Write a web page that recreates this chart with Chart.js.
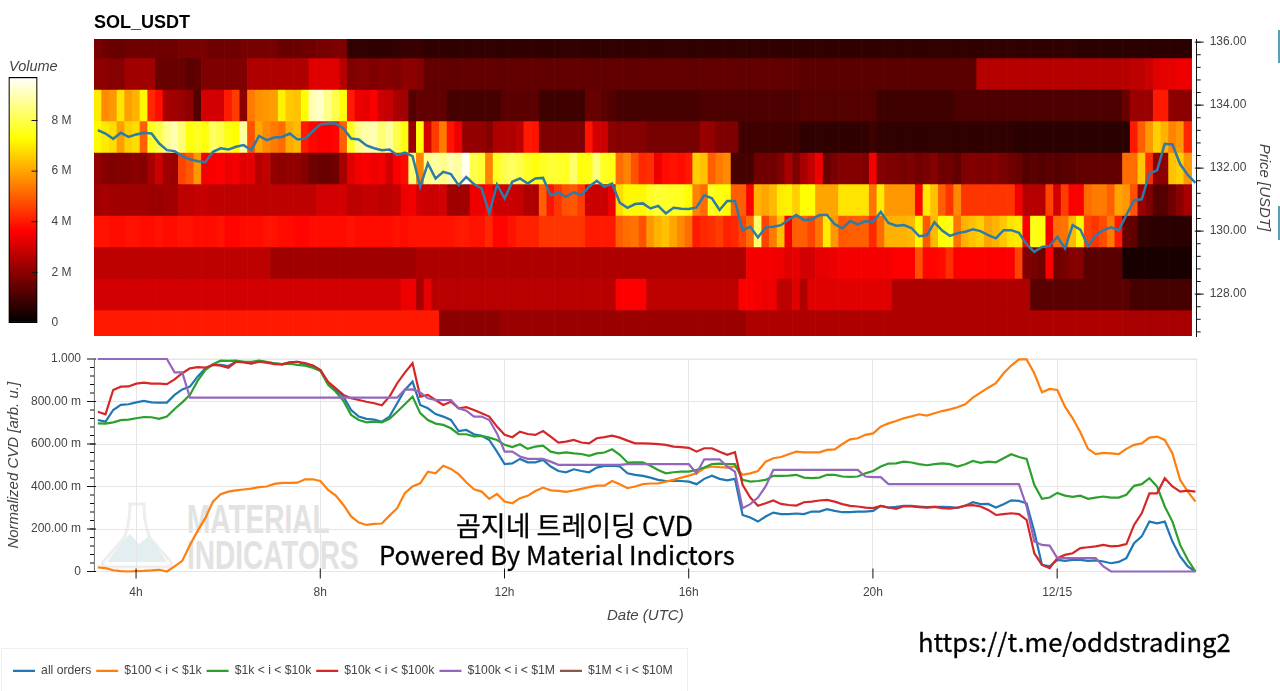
<!DOCTYPE html>
<html>
<head>
<meta charset="utf-8">
<title>SOL_USDT</title>
<script src="https://cdn.jsdelivr.net/npm/chart.js@4"></script>
<style>
  body { margin: 0; background: #fff; width: 1280px; height: 691px; overflow: hidden; position: relative; }
  canvas { position: absolute; }
  .note { position: absolute; white-space: nowrap; color: #000; font-family: "Noto Sans CJK KR", sans-serif; -webkit-text-stroke: 0.3px #000; }
  .mark { position: absolute; white-space: nowrap; color: #e2e2e2; font: bold 40px/40px "Liberation Sans", sans-serif; transform: scaleX(0.7); transform-origin: left; }
  .edge { position: absolute; left: 1278px; width: 2px; background: #5b9fb5; }
</style>
</head>
<body>
<div style="position:absolute;left:1px;top:648px;width:685px;height:50px;border:1px solid #efefef"></div>
<svg style="position:absolute;left:97px;top:500px" width="80" height="70">
  <path d="M6 62 L27 38 Q33 24 33 4 L47 4 Q47 24 53 38 L74 62 Q76 66 70 67 L10 67 Q4 66 6 62 Z" fill="none" stroke="#eeeeee" stroke-width="3"/>
  <path d="M10 62 L25 42 L33 34 L42 44 L52 36 L70 62 Z" fill="#e3eef1"/>
</svg>
<div class="mark" style="left:187px;top:499px">MATERIAL</div>
<div class="mark" style="left:187px;top:535px">INDICATORS</div>
<canvas id="heatChart" width="1280" height="345" style="left:0;top:0"></canvas>
<canvas id="barChart" width="90" height="345" style="left:0;top:0"></canvas>
<canvas id="cvdChart" width="1280" height="346" style="left:0;top:345px"></canvas>
<div style="position:absolute;left:94px;top:12px;font:bold 18px 'Liberation Sans',sans-serif">SOL_USDT</div>
<div style="position:absolute;left:9px;top:58px;font:italic 14.5px 'Liberation Sans',sans-serif;color:#444">Volume</div>
<div class="note" style="left:456px;top:507px;font-size:27px;line-height:36px">곰지네 트레이딩 CVD</div>
<div class="note" style="left:379px;top:536px;font-size:25.7px;line-height:36px">Powered By Material Indictors</div>
<div class="note" style="left:918px;top:622px;font-size:25.6px;line-height:38px">https://t.me/oddstrading2</div>
<div class="edge" style="top:30px;height:33px"></div>
<div class="edge" style="top:206px;height:34px"></div>
<script>
// hours since midnight, one heat column every 10 minutes
var startHour = 3.17;
var hours = Array.from({ length: 144 }, function (_, k) { return startHour + k / 6; });

var timeTicks = [4, 8, 12, 16, 20, 24];
var timeLabels = ['4h', '8h', '12h', '16h', '20h', '12/15'];
var priceTicks = [128, 130, 132, 134, 136];
var cvdTicks = [0, 0.2, 0.4, 0.6, 0.8, 1];
var cvdLabels = ['0', '200.00 m', '400.00 m', '600.00 m', '800.00 m', '1.000'];
var volumeTicks = [0, 2, 4, 6, 8];
var volumeLabels = ['0', '2 M', '4 M', '6 M', '8 M'];
var volumeMax = 9.72;

// price band edges, top to bottom
var bandEdges = [136.1, 135.5, 134.5, 133.5, 132.5, 131.5, 130.5, 129.5, 128.5, 127.5, 126.67];

// heat map volume in millions, one list per price band
var volume136 = [
  1.7,1.6,1.5,1.5,1.6,1.6,1.6,1.6,1.6,1.6,
  1.6,1.7,1.7,1.7,1.7,1.6,1.6,1.6,1.6,1.7,
  1.7,1.7,1.7,1.7,1.5,1.5,1.5,1.6,1.6,1.7,
  1.7,1.8,1.8,0.7,0.7,0.7,0.7,0.7,0.7,0.7,
  0.8,0.8,0.8,0.7,0.7,0.7,0.7,0.7,0.7,0.7,
  0.7,0.7,0.7,0.7,0.7,0.7,0.7,0.7,0.7,0.7,
  0.7,0.7,0.7,0.7,0.7,0.7,0.7,0.7,0.7,0.7,
  0.7,0.7,0.7,0.7,0.7,0.7,0.7,0.7,0.7,0.7,
  0.7,0.7,0.7,0.7,0.7,0.7,0.7,0.7,0.7,0.7,
  0.7,0.7,0.7,0.7,0.7,0.7,0.7,0.7,0.7,0.7,
  0.7,0.7,0.7,0.7,0.7,0.7,0.7,0.7,0.7,0.7,
  0.7,0.7,0.7,0.7,0.7,0.7,0.7,0.7,0.7,0.7,
  0.7,0.7,0.7,0.7,0.7,0.7,0.7,0.7,0.6,0.6,
  0.6,0.6,0.6,0.6,0.6,0.6,0.6,0.6,0.6,0.6,
  0.6,0.6,0.6
];
var volume135 = [
  2.0,2.0,1.9,1.9,2.3,2.3,2.3,2.3,1.5,1.5,
  1.5,1.5,1.3,1.4,1.8,1.8,1.8,1.8,1.8,1.8,
  2.5,2.5,2.5,2.5,2.5,2.5,2.5,2.5,3.2,3.2,
  3.2,3.2,2.6,1.8,1.9,1.9,1.8,1.9,1.9,1.8,
  2.0,2.0,1.9,1.4,1.4,1.4,1.4,1.4,1.4,1.4,
  1.4,1.4,1.4,1.4,1.4,1.4,1.4,1.4,1.4,1.4,
  1.4,1.4,1.4,1.4,1.4,1.4,1.4,1.4,1.4,1.4,
  1.4,1.4,1.4,1.4,1.4,1.4,1.4,1.4,1.4,1.4,
  1.4,1.4,1.4,1.4,1.4,1.4,1.4,1.4,1.4,1.4,
  1.4,1.4,1.3,1.3,1.3,1.3,1.3,1.3,1.3,1.3,
  1.3,1.3,1.3,1.3,1.3,1.3,1.3,1.3,1.3,1.3,
  1.3,1.3,1.3,1.3,1.3,2.6,2.6,2.6,2.6,2.6,
  2.6,2.6,2.6,2.6,2.6,2.6,2.6,2.6,2.6,2.6,
  2.6,2.6,2.6,2.6,2.6,2.7,2.7,2.9,3.2,3.3,
  3.3,3.4,3.4
];
var volume134 = [
  7.0,5.6,5.8,6.9,5.9,6.2,7.2,4.2,3.8,2.4,
  2.3,2.2,2.0,1.2,3.0,3.0,3.0,4.0,4.5,2.0,
  5.4,5.7,5.8,5.9,7.1,6.5,6.4,7.3,9.0,9.2,
  8.6,8.0,7.4,4.0,3.4,3.3,3.6,2.9,2.8,2.4,
  2.3,1.2,1.4,1.4,1.4,1.4,1.0,1.0,1.0,1.0,
  1.0,1.0,1.0,1.3,1.3,1.3,1.3,1.3,0.9,0.9,
  0.9,0.9,0.9,0.9,1.5,1.5,1.3,1.2,1.0,1.0,
  1.0,1.0,1.0,1.0,1.0,1.0,1.0,1.0,1.0,1.1,
  1.1,1.1,1.1,1.1,1.1,1.1,1.1,1.1,1.1,1.1,
  1.1,1.1,1.2,1.2,1.2,1.2,1.2,1.2,1.2,1.2,
  1.2,1.2,0.9,0.9,0.9,0.9,0.9,0.9,0.9,0.9,
  0.9,0.9,1.1,1.1,1.1,1.1,1.1,1.1,1.1,1.1,
  1.1,1.1,1.1,1.1,1.1,1.1,1.1,1.1,1.1,1.1,
  1.1,1.1,1.1,1.1,1.5,2.2,2.2,2.2,4.0,4.0,
  2.0,2.0,2.0
];
var volume133 = [
  7.2,7.0,6.8,5.9,6.6,6.8,5.0,7.6,8.0,8.6,
  9.0,8.4,7.4,7.6,7.4,8.2,8.0,7.5,7.3,8.8,
  4.8,6.0,5.6,5.4,5.2,6.1,6.3,4.0,3.7,3.6,
  3.6,3.7,5.0,7.6,8.6,8.9,9.0,8.4,8.8,8.0,
  7.4,2.2,7.4,3.0,4.5,5.4,3.9,3.4,2.1,2.1,
  2.1,1.9,2.5,2.5,2.5,2.7,4.0,3.9,1.8,1.8,
  1.8,1.8,1.8,1.8,3.9,3.0,2.9,2.0,1.9,1.9,
  1.9,1.9,1.7,1.7,1.7,1.7,1.7,1.7,1.7,2.2,
  2.1,1.8,1.8,1.8,0.9,0.9,0.9,0.9,0.9,0.9,
  0.9,0.9,0.7,0.7,0.7,0.7,0.7,0.7,0.7,0.7,
  0.7,0.9,0.7,0.7,0.7,0.7,0.7,0.7,0.7,0.7,
  0.7,0.7,0.7,0.7,0.7,0.7,0.7,0.7,0.7,0.7,
  0.6,0.6,0.6,0.6,0.6,0.6,0.6,0.6,0.6,0.6,
  0.6,0.6,0.6,0.6,0.6,4.0,5.0,5.8,6.6,6.2,
  5.5,5.8,4.2
];
var volume132 = [
  2.1,1.9,1.8,1.9,1.9,2.0,1.9,2.4,2.9,2.3,
  2.2,4.6,4.9,5.8,3.5,3.6,3.6,3.4,3.5,3.2,
  3.3,2.6,2.8,2.1,2.0,2.1,2.1,1.9,1.6,1.5,
  1.5,1.6,2.4,3.2,3.5,3.6,3.4,3.5,3.0,3.6,
  3.8,8.4,5.5,8.6,8.8,8.6,9.0,8.8,9.6,8.0,
  7.8,5.5,7.6,8.0,8.2,8.0,7.6,7.4,7.6,7.8,
  7.7,7.6,8.3,7.4,7.5,8.5,7.6,7.5,5.2,5.5,
  4.8,4.2,4.3,3.4,3.8,3.9,3.8,4.0,6.6,6.4,
  5.0,5.4,5.6,1.0,1.0,1.0,1.6,1.6,1.6,1.8,
  2.4,1.8,2.4,2.8,3.4,1.5,1.7,1.9,1.9,1.9,
  1.8,3.5,1.9,1.8,1.8,1.7,1.8,1.6,1.7,1.9,
  1.6,1.6,1.4,1.8,1.9,1.8,1.8,1.9,1.7,1.6,
  1.5,1.2,1.3,1.2,1.3,1.2,1.3,1.3,1.4,1.4,
  1.4,1.4,1.4,1.4,5.2,5.2,6.5,4.3,2.0,2.0,
  6.4,6.6,5.8
];
var volume131 = [
  2.3,2.4,2.3,2.3,2.3,2.3,2.3,2.2,2.2,2.3,
  2.3,2.7,2.7,2.8,2.8,2.7,2.7,2.7,2.7,2.7,
  2.7,2.7,2.7,2.7,2.7,2.7,2.7,2.7,2.7,3.0,
  3.0,3.0,3.0,2.7,2.7,2.8,2.8,2.7,2.7,2.8,
  3.4,3.5,3.0,2.9,2.9,3.0,2.3,2.3,2.3,3.4,
  3.4,3.7,2.9,2.9,2.9,2.8,2.5,2.5,5.0,3.9,
  4.4,4.8,4.9,4.5,2.9,2.9,2.9,3.4,6.8,7.2,
  7.2,7.2,7.6,7.8,7.7,7.6,7.6,7.3,5.5,5.2,
  7.6,7.4,7.3,5.0,5.0,3.6,6.2,6.0,6.3,7.0,
  7.1,6.6,7.3,7.3,6.0,6.0,6.0,6.9,6.9,6.9,
  6.9,5.3,7.0,5.8,5.8,5.8,5.8,3.7,7.0,6.4,
  5.0,4.4,5.6,4.4,4.4,4.4,4.4,4.4,4.4,4.4,
  3.5,2.6,2.6,2.6,4.6,3.0,4.5,3.6,3.6,5.2,
  5.4,5.4,5.0,6.0,5.8,4.8,2.2,1.8,1.2,1.2,
  1.6,2.0,2.4
];
var volume130 = [
  3.9,3.9,3.8,3.8,3.9,3.9,3.8,3.8,3.9,3.8,
  3.8,3.9,3.9,3.8,3.8,3.8,3.9,3.7,3.7,3.8,
  3.8,3.8,3.9,3.9,3.8,3.8,3.7,3.7,3.8,3.8,
  3.8,3.8,3.8,3.9,3.8,3.8,3.8,3.8,3.8,3.9,
  3.8,3.9,3.9,3.9,3.9,3.9,3.9,4.0,4.0,3.9,
  3.9,4.2,3.7,3.7,3.9,4.1,4.1,4.1,4.4,4.4,
  4.4,4.4,4.4,4.4,4.0,4.0,4.0,4.0,5.0,5.2,
  5.3,4.8,5.8,6.2,6.4,6.0,5.6,5.2,4.0,4.2,
  4.3,4.5,4.1,4.2,4.6,5.2,8.3,4.6,5.4,6.4,
  3.5,5.0,5.0,4.6,5.3,7.0,5.8,4.9,5.0,5.0,
  5.0,4.2,5.2,6.2,6.2,6.2,6.3,7.2,4.9,6.3,
  7.3,7.5,5.3,6.2,6.4,6.6,6.0,6.2,6.5,6.9,
  7.0,3.6,7.5,7.4,3.5,5.2,5.3,6.3,7.2,4.6,
  4.4,4.7,5.4,4.0,1.5,1.4,0.7,0.7,0.6,0.6,
  0.6,0.6,0.6
];
var volume129 = [
  2.7,2.7,2.7,2.7,2.7,2.7,2.7,2.7,2.7,2.7,
  2.7,2.7,2.7,2.7,2.7,2.7,2.7,2.7,2.7,2.7,
  2.7,2.7,2.7,2.3,2.3,2.3,2.3,2.3,2.3,2.3,
  2.3,2.3,2.3,2.3,2.3,2.3,2.3,2.3,2.3,2.3,
  2.3,2.3,2.5,2.5,2.5,2.5,2.5,2.5,2.5,2.5,
  2.5,2.5,2.5,2.5,2.5,2.5,2.5,2.5,2.5,2.5,
  2.5,2.5,2.5,2.5,2.5,2.5,2.5,2.5,2.5,2.5,
  2.5,2.5,2.5,2.5,2.5,2.5,2.5,2.5,2.5,2.5,
  2.5,2.5,2.5,2.5,2.5,3.5,3.5,3.5,3.5,3.4,
  3.2,3.3,3.0,3.0,3.3,3.3,3.4,3.5,3.5,3.5,
  3.5,3.5,3.5,3.5,3.6,3.6,3.6,4.8,3.7,3.7,
  3.8,4.3,3.6,3.6,3.6,3.6,3.6,3.6,3.6,3.6,
  4.6,1.8,1.7,1.6,3.6,1.6,1.7,1.9,1.9,1.3,
  1.3,1.3,1.3,1.3,0.35,0.35,0.35,0.35,0.35,0.35,
  0.35,0.35,0.35
];
var volume128 = [
  3.0,3.0,3.0,3.0,3.0,3.0,3.0,3.0,3.0,3.0,
  3.0,3.0,3.0,3.0,3.0,3.0,3.0,3.0,3.0,3.0,
  3.0,3.0,3.0,3.0,3.0,3.0,3.0,3.0,3.0,3.0,
  3.0,3.0,3.0,3.0,3.0,3.0,3.0,3.0,3.0,3.0,
  3.4,3.4,2.4,3.3,2.65,2.65,2.65,2.65,2.65,2.65,
  2.65,2.65,2.65,2.65,2.65,2.65,2.65,2.65,2.65,2.65,
  2.65,2.65,2.65,2.65,2.65,2.65,2.65,2.65,3.6,3.6,
  3.6,3.6,2.7,2.7,2.7,2.7,2.7,2.7,2.7,2.7,
  2.7,2.7,2.7,2.7,3.6,3.6,3.5,3.4,3.4,2.7,
  2.7,3.2,2.5,3.2,3.2,3.2,3.2,3.2,3.2,3.2,
  3.2,3.2,3.2,3.2,2.5,2.5,2.5,2.5,2.5,2.5,
  2.5,2.5,2.5,2.5,2.5,2.5,2.5,2.5,2.5,2.5,
  2.5,2.5,1.3,1.3,1.3,1.3,1.3,1.3,1.3,1.3,
  1.3,1.3,1.3,1.3,1.3,1.0,1.0,1.0,1.0,1.0,
  1.0,1.0,1.0
];
var volume127 = [
  4.0,4.0,4.0,4.0,4.0,4.0,4.0,4.0,4.0,4.0,
  4.0,4.0,4.0,4.0,4.0,4.0,4.0,4.0,4.0,4.0,
  4.0,4.0,4.0,4.0,4.0,4.0,4.0,4.0,4.0,4.0,
  4.0,4.0,4.0,4.0,4.0,4.0,4.0,4.0,4.0,4.0,
  4.0,4.0,4.0,4.0,4.0,2.0,2.0,2.0,2.0,2.0,
  2.0,2.0,2.0,2.2,2.2,2.2,2.2,2.2,2.2,2.2,
  2.2,2.2,2.2,2.2,2.2,2.2,2.2,2.2,2.2,2.2,
  2.2,2.2,2.2,2.2,2.2,2.2,2.2,2.2,2.2,2.2,
  2.2,2.2,2.2,2.2,2.2,2.5,2.5,2.5,2.5,2.5,
  2.5,2.5,2.5,2.5,2.5,2.5,2.5,2.5,2.5,2.5,
  2.5,2.5,2.5,2.5,2.5,2.5,2.5,2.5,2.5,2.5,
  2.5,2.5,2.5,2.5,2.5,2.5,2.5,2.5,2.5,2.5,
  2.5,2.5,2.5,2.5,2.5,2.5,2.5,2.5,2.5,2.5,
  2.5,2.5,2.5,2.5,2.4,2.4,2.4,2.4,2.4,2.4,
  2.4,2.4,2.4
];

var price = [
  133.21,133.10,132.93,133.12,132.99,133.07,133.12,133.10,132.78,132.57,
  132.54,132.38,132.28,132.22,132.19,132.52,132.63,132.59,132.68,132.73,
  132.57,133.02,132.89,132.97,132.99,133.10,132.91,132.94,133.17,133.39,
  133.42,133.42,133.26,132.94,132.91,132.72,132.63,132.57,132.59,132.41,
  132.49,132.38,131.41,132.15,131.67,131.88,131.81,131.46,131.72,131.49,
  131.36,130.56,131.48,131.04,131.57,131.67,131.51,131.67,131.69,131.14,
  131.22,131.09,131.23,131.14,131.41,131.60,131.41,131.51,130.90,130.74,
  130.86,130.88,130.72,130.80,130.56,130.74,130.71,130.70,130.75,131.14,
  131.04,130.67,130.96,130.96,130.03,130.14,129.80,130.12,130.14,130.19,
  130.37,130.51,130.35,130.37,130.51,130.51,130.22,130.09,130.32,130.21,
  130.31,130.29,130.61,130.26,130.17,130.19,130.10,129.84,129.87,130.28,
  130.02,129.85,129.93,129.98,130.06,130.00,129.87,129.77,130.03,130.03,
  129.95,129.58,129.34,129.50,129.53,129.82,129.45,130.19,130.05,129.52,
  129.87,130.03,130.12,130.02,130.51,130.98,131.01,131.83,131.93,132.77,
  132.75,132.13,131.78,131.53
];

// normalized CVD per order size
var allOrders = [
  .713,.705,.760,.784,.787,.796,.803,.796,.795,.795,
  .831,.857,.870,.917,.956,.972,.972,.967,.987,.987,
  .980,.991,.984,.980,.975,.984,.987,.975,.969,.948,
  .886,.854,.823,.760,.729,.718,.715,.705,.729,.792,
  .854,.893,.784,.768,.741,.729,.713,.661,.666,.646,
  .639,.619,.564,.506,.509,.530,.514,.514,.525,.494,
  .473,.467,.481,.473,.467,.489,.497,.498,.494,.462,
  .455,.450,.442,.431,.426,.426,.426,.423,.411,.436,
  .451,.436,.429,.436,.266,.254,.235,.259,.277,.270,
  .270,.273,.270,.282,.282,.293,.285,.279,.279,.282,
  .282,.285,.309,.301,.304,.309,.309,.306,.303,.304,
  .304,.303,.299,.309,.326,.317,.318,.301,.317,.335,
  .332,.321,.188,.031,.024,.055,.050,.055,.055,.050,
  .052,.047,.039,.045,.063,.133,.165,.235,.227,.235,
  .141,.071,.024,0
];
var orders100to1k = [
  .019,.016,.006,.002,0,.002,.003,.005,.008,0,
  .024,.050,.125,.191,.251,.329,.364,.376,.382,.386,
  .390,.397,.400,.412,.417,.417,.418,.434,.434,.426,
  .384,.357,.313,.259,.230,.219,.224,.226,.263,.298,
  .368,.400,.415,.470,.462,.498,.483,.458,.420,.387,
  .376,.342,.365,.329,.321,.345,.356,.379,.395,.382,
  .379,.375,.381,.389,.397,.404,.404,.426,.411,.392,
  .400,.411,.414,.415,.423,.431,.442,.451,.462,.486,
  .494,.491,.489,.494,.455,.462,.473,.517,.533,.539,
  .552,.564,.561,.561,.561,.572,.575,.600,.622,.627,
  .643,.650,.682,.697,.708,.721,.730,.740,.734,.745,
  .755,.763,.773,.787,.818,.842,.865,.886,.933,.969,
  .998,.998,.933,.843,.859,.854,.776,.721,.655,.577,
  .552,.558,.556,.552,.577,.596,.603,.630,.635,.619,
  .556,.431,.376,.329
];
var orders1kto10k = [
  .697,.696,.702,.712,.715,.721,.727,.726,.718,.729,
  .765,.796,.831,.897,.948,.975,.992,.991,.992,.987,
  .987,.992,.987,.980,.976,.978,.972,.969,.959,.944,
  .878,.846,.803,.737,.713,.702,.705,.702,.718,.752,
  .787,.823,.745,.713,.696,.690,.674,.646,.646,.636,
  .638,.630,.619,.596,.586,.599,.577,.588,.592,.564,
  .556,.561,.556,.553,.544,.556,.560,.575,.549,.513,
  .514,.514,.498,.478,.462,.467,.470,.470,.478,.489,
  .506,.508,.505,.505,.431,.423,.426,.431,.450,.450,
  .451,.455,.442,.439,.442,.455,.455,.447,.445,.447,
  .462,.473,.494,.508,.509,.517,.513,.505,.500,.505,
  .509,.505,.494,.505,.520,.511,.517,.514,.533,.552,
  .539,.530,.408,.342,.348,.370,.357,.351,.357,.342,
  .348,.353,.348,.348,.361,.403,.411,.439,.400,.306,
  .235,.125,.055,0
];
var orders10kto100k = [
  .752,.740,.854,.870,.871,.884,.889,.884,.884,.882,
  .904,.933,.956,.962,.959,.972,.969,.959,.987,.984,
  .978,.987,.983,.976,.975,.984,.987,.981,.969,.948,
  .893,.862,.831,.815,.807,.799,.792,.782,.823,.886,
  .936,.980,.823,.831,.807,.784,.799,.768,.773,.760,
  .745,.729,.682,.643,.632,.658,.647,.643,.661,.635,
  .607,.611,.619,.607,.603,.627,.632,.639,.630,.616,
  .603,.603,.602,.599,.596,.588,.585,.582,.564,.580,
  .580,.564,.549,.561,.408,.348,.309,.321,.334,.318,
  .313,.310,.326,.329,.334,.337,.329,.317,.309,.306,
  .301,.298,.309,.301,.295,.307,.306,.303,.301,.304,
  .298,.296,.301,.310,.312,.306,.290,.266,.270,.274,
  .270,.243,.086,.031,.016,.063,.078,.086,.110,.114,
  .118,.125,.118,.121,.129,.219,.274,.368,.368,.439,
  .400,.376,.381,.376
];
var orders100kto1m = [
  1,1,1,1,1,1,1,1,1,1,
  .937,.937,.818,.818,.818,.818,.818,.818,.818,.818,
  .818,.818,.818,.818,.818,.818,.818,.818,.818,.818,
  .818,.818,.818,.818,.818,.818,.818,.818,.818,.818,
  .856,.857,.842,.815,.807,.807,.807,.768,.757,.729,
  .729,.713,.650,.564,.564,.541,.530,.530,.530,.517,
  .502,.502,.502,.502,.502,.502,.502,.502,.502,.505,
  .505,.505,.505,.505,.505,.505,.505,.505,.462,.528,
  .528,.528,.494,.470,.298,.317,.348,.400,.478,.478,
  .478,.478,.478,.478,.478,.478,.478,.478,.478,.478,
  .447,.444,.444,.411,.411,.411,.411,.411,.411,.411,
  .411,.411,.411,.411,.411,.411,.411,.411,.411,.411,
  .411,.306,.141,.125,.122,.063,.063,.063,.063,.063,
  .063,.024,0,0,0,0,0,0,0,0,
  0,0,0,0
];
var orders1mto10m = [];

var cvdSeries = [
  ['all orders', '#1f77b4', allOrders],
  ['$100 < i < $1k', '#ff7f0e', orders100to1k],
  ['$1k < i < $10k', '#2ca02c', orders1kto10k],
  ['$10k < i < $100k', '#d62728', orders10kto100k],
  ['$100k < i < $1M', '#9467bd', orders100kto1m],
  ['$1M < i < $10M', '#8c564b', orders1mto10m]
];

var tickFont = { family: 'Liberation Sans', size: 12 };
var titleFont = { family: 'Liberation Sans', size: 15, style: 'italic' };
var timeMin = 3.087, timeMax = 27.03;

// the hot colour map used by the heat cells
function hot(v) {
  var t = v / volumeMax;
  var r = Math.min(1, t / 0.375);
  var g = Math.max(0, Math.min(1, (t - 0.375) / 0.375));
  var b = Math.max(0, Math.min(1, (t - 0.75) / 0.25));
  return 'rgb(' + Math.round(r * 255) + ',' + Math.round(g * 255) + ',' + Math.round(b * 255) + ')';
}

// tick label padding would otherwise push the chart area around
function fitAxis(s, size) {
  if (s.isHorizontal()) s.height = size; else s.width = size;
  s.paddingTop = s.paddingBottom = s.paddingLeft = s.paddingRight = 0;
}

// bokeh style ticks: majors cross the axis line, minors stay outside
function tickMarks(axis, major, minorStep, majorOut, majorIn, minorOut) {
  return {
    id: 'tickMarks' + axis,
    afterDraw: function (chart) {
      var s = chart.scales[axis];
      var ctx = chart.ctx;
      function mark(v, out, inner) {
        var p = s.getPixelForValue(v);
        ctx.beginPath();
        if (s.isHorizontal()) {
          ctx.moveTo(p, s.top - inner);
          ctx.lineTo(p, s.top + out);
        } else if (s.position === 'left') {
          ctx.moveTo(s.right - out, p);
          ctx.lineTo(s.right + inner, p);
        } else {
          ctx.moveTo(s.left - inner, p);
          ctx.lineTo(s.left + out, p);
        }
        ctx.stroke();
      }
      ctx.save();
      ctx.strokeStyle = '#111';
      ctx.lineWidth = 1;
      if (minorStep) {
        for (var v = Math.ceil(s.min / minorStep) * minorStep; v <= s.max; v += minorStep) {
          mark(v, minorOut, 0);
        }
      }
      major.forEach(function (v) { mark(v, majorOut, majorIn); });
      ctx.restore();
    }
  };
}

var plotOutline = {
  id: 'plotOutline',
  beforeDatasetsDraw: function (chart) {
    var a = chart.chartArea;
    chart.ctx.save();
    chart.ctx.strokeStyle = '#e6e6e6';
    chart.ctx.strokeRect(a.left, a.top, a.right - a.left, a.bottom - a.top);
    chart.ctx.restore();
  }
};

// heat map: one floating bar per time and price band
var volumeBands = [volume136, volume135, volume134, volume133, volume132, volume131, volume130, volume129, volume128, volume127];
var heatSets = volumeBands.map(function (band, b) {
  return {
    type: 'bar',
    order: 1,
    data: band.map(function (v, k) {
      return { x: hours[k], y: [bandEdges[b + 1], bandEdges[b]] };
    }),
    backgroundColor: band.map(hot),
    borderWidth: 0,
    grouped: false,
    barPercentage: 1,
    categoryPercentage: 1
  };
});

new Chart(document.getElementById('heatChart'), {
  type: 'bar',
  data: {
    datasets: heatSets.concat([{
      type: 'line',
      order: 0,
      data: price.map(function (v, k) { return { x: hours[k], y: v }; }),
      borderColor: '#2e7aa8',
      borderWidth: 2.5,
      pointRadius: 0,
      tension: 0
    }])
  },
  options: {
    responsive: false,
    animation: false,
    events: [],
    layout: { autoPadding: false, padding: { left: 94, top: 39, bottom: 9 } },
    plugins: { legend: { display: false }, tooltip: { enabled: false } },
    scales: {
      x: {
        type: 'linear',
        display: false,
        offset: false,
        min: timeMin,
        max: timeMax,
        grid: { offset: false, display: false }
      },
      y: {
        position: 'right',
        min: 126.67,
        max: 136.1,
        grid: { display: false, drawTicks: false },
        border: { color: '#111', width: 1 },
        afterBuildTicks: function (s) { s.ticks = priceTicks.map(function (v) { return { value: v }; }); },
        afterFit: function (s) { fitAxis(s, 83.3); },
        ticks: {
          padding: 13,
          color: '#444',
          font: tickFont,
          callback: function (v) { return v.toFixed(2); }
        },
        title: { display: true, text: 'Price [USDT]', color: '#444', font: titleFont, padding: { top: 7 } }
      }
    }
  },
  plugins: [tickMarks('y', priceTicks, 0.4, 7, 2, 4)]
});

// colour bar beside the heat map
new Chart(document.getElementById('barChart'), {
  type: 'bar',
  data: {
    labels: ['Volume'],
    datasets: [{
      data: [[0, volumeMax]],
      barPercentage: 1,
      categoryPercentage: 1,
      borderWidth: 1.5,
      borderColor: '#000',
      borderSkipped: false,
      backgroundColor: function (c) {
        var a = c.chart.chartArea;
        if (!a) return '#000';
        var g = c.chart.ctx.createLinearGradient(0, a.bottom, 0, a.top);
        g.addColorStop(0, hot(0));
        g.addColorStop(0.375, hot(volumeMax * 0.375));
        g.addColorStop(0.75, hot(volumeMax * 0.75));
        g.addColorStop(1, hot(volumeMax));
        return g;
      }
    }]
  },
  options: {
    responsive: false,
    animation: false,
    events: [],
    layout: { autoPadding: false, padding: { left: 8.5, top: 77, bottom: 22 } },
    plugins: { legend: { display: false }, tooltip: { enabled: false } },
    scales: {
      x: { display: false },
      y: {
        position: 'right',
        min: 0,
        max: volumeMax,
        grid: { display: false, drawTicks: false },
        border: { display: false },
        afterBuildTicks: function (s) { s.ticks = volumeTicks.map(function (v) { return { value: v }; }); },
        afterFit: function (s) { fitAxis(s, 52.5); },
        ticks: {
          padding: 14,
          color: '#444',
          font: tickFont,
          callback: function (v) { return volumeLabels[volumeTicks.indexOf(v)]; }
        }
      }
    }
  },
  plugins: [tickMarks('y', [2, 4, 6, 8], 0, 0, 6, 0)]
});

// CVD lines with the legend under them
new Chart(document.getElementById('cvdChart'), {
  type: 'line',
  data: {
    datasets: cvdSeries.map(function (s, i) {
      return {
        label: s[0],
        borderColor: s[1],
        backgroundColor: s[1],
        order: -i,
        data: s[2].map(function (v, k) { return { x: hours[k], y: v }; }),
        borderWidth: 2.2,
        pointRadius: 0,
        tension: 0,
        clip: 2
      };
    })
  },
  options: {
    responsive: false,
    animation: false,
    events: [],
    layout: { autoPadding: false, padding: { left: 8, right: 83.3, top: 14, bottom: 4 } },
    plugins: {
      tooltip: { enabled: false },
      legend: {
        position: 'bottom',
        align: 'start',
        labels: {
          boxWidth: 22,
          boxHeight: 0,
          padding: 5,
          color: '#444',
          font: { family: 'Liberation Sans', size: 12.2 },
          sort: function (a, b) { return a.datasetIndex - b.datasetIndex; }
        }
      }
    },
    scales: {
      x: {
        type: 'linear',
        min: timeMin,
        max: timeMax,
        grid: { color: '#e6e6e6', drawTicks: false },
        border: { color: '#111', width: 1 },
        afterBuildTicks: function (s) { s.ticks = timeTicks.map(function (v) { return { value: v }; }); },
        afterFit: function (s) { fitAxis(s, 88.3); },
        ticks: {
          padding: 14,
          maxRotation: 0,
          autoSkip: false,
          color: '#444',
          font: tickFont,
          callback: function (v) { return timeLabels[timeTicks.indexOf(v)]; }
        },
        title: { display: true, text: 'Date (UTC)', color: '#444', font: titleFont, padding: { bottom: 35 } }
      },
      y: {
        min: 0,
        max: 1,
        grid: { color: '#e6e6e6', drawTicks: false },
        border: { color: '#111', width: 1 },
        afterBuildTicks: function (s) { s.ticks = cvdTicks.map(function (v) { return { value: v }; }); },
        afterFit: function (s) { fitAxis(s, 86); },
        ticks: {
          padding: 13,
          color: '#444',
          font: tickFont,
          callback: function (v) { return cvdLabels[cvdTicks.indexOf(v)]; }
        },
        title: { display: true, text: 'Normalized CVD [arb. u.]', color: '#444', font: titleFont, padding: { top: -3 } }
      }
    }
  },
  plugins: [plotOutline, tickMarks('y', cvdTicks, 0.04, 7, 2, 4), tickMarks('x', timeTicks, 0, 7, 3, 0)]
});
</script>
</body>
</html>
